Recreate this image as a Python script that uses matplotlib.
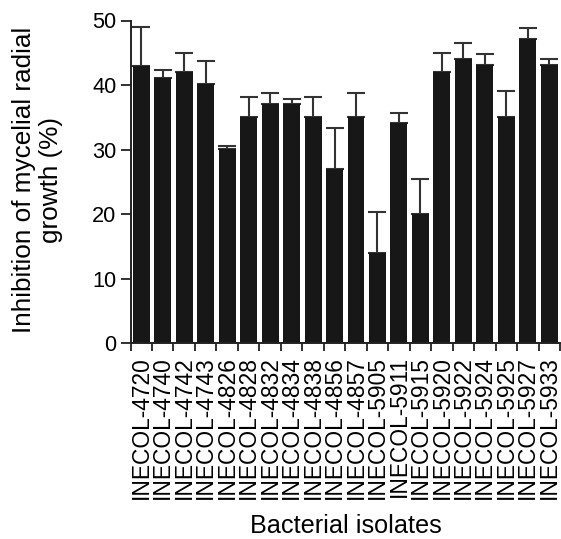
import matplotlib
matplotlib.use("Agg")
import matplotlib.pyplot as plt
import numpy as np

isolates = ["INECOL-4720", "INECOL-4740", "INECOL-4742", "INECOL-4743", "INECOL-4826",
            "INECOL-4828", "INECOL-4832", "INECOL-4834", "INECOL-4838", "INECOL-4856",
            "INECOL-4857", "INECOL-5905", "INECOL-5911", "INECOL-5915", "INECOL-5920",
            "INECOL-5922", "INECOL-5924", "INECOL-5925", "INECOL-5927", "INECOL-5933"]
inhibition = [43.0, 41.1, 42.1, 40.1, 30.1, 35.1, 37.1, 37.1, 35.1, 27.0,
              35.1, 14.0, 34.1, 20.1, 42.1, 44.1, 43.1, 35.1, 47.1, 43.1]
errors = [6.0, 1.2, 2.9, 3.7, 0.4, 3.0, 1.7, 0.8, 3.0, 6.4,
          3.7, 6.4, 1.6, 5.4, 2.9, 2.4, 1.7, 4.0, 1.7, 1.0]
yticks = [0, 10, 20, 30, 40, 50]

plt.rcParams['font.family'] = ['Liberation Sans', 'DejaVu Sans']

fig = plt.figure(figsize=(5.61, 5.39), dpi=100)
W, H = 561, 539
ax_l, ax_r, ax_b, ax_t = 130.5, 560.0, 343.3, 20.5
ax = fig.add_axes([ax_l / W, 1 - ax_b / H, (ax_r - ax_l) / W, (ax_b - ax_t) / H])

x = np.arange(len(isolates))
ax.bar(x, inhibition, width=0.79, color='#171717', edgecolor='none', zorder=2)
ax.errorbar(x, inhibition, yerr=[np.zeros(len(errors)), errors], fmt='none',
            ecolor='#333333', elinewidth=1.5, capsize=6.2, capthick=1.5, zorder=1)

ax.set_xlim(-0.5, len(isolates) - 0.5)
ax.set_ylim(0, 50)
ax.set_yticks(yticks)
ax.set_xticks(x)
ax.set_xticklabels(isolates, rotation=90, fontsize=16.4)
ax.tick_params(axis='x', which='major', length=0, pad=9)
ax.set_xticks(np.arange(len(isolates) + 1) - 0.5, minor=True)
ax.tick_params(axis='x', which='minor', length=6, width=1.3, color='#222222')
ax.tick_params(axis='y', labelsize=15.7, length=7, width=1.3, color='#222222', pad=3)

for s in ['top', 'right']:
    ax.spines[s].set_visible(False)
for s in ['left', 'bottom']:
    ax.spines[s].set_linewidth(1.4)
    ax.spines[s].set_color('#222222')

ax.set_ylabel("Inhibition of mycelial radial\ngrowth (%)", fontsize=18.8)
ax.yaxis.label.set_verticalalignment('center')
ax.yaxis.set_label_coords((37.5 - ax_l) / (ax_r - ax_l), (ax_b - 180) / (ax_b - ax_t))

ax.set_xlabel("Bacterial isolates", fontsize=18.2)
ax.xaxis.label.set_verticalalignment('baseline')
ax.xaxis.set_label_coords((345.5 - ax_l) / (ax_r - ax_l), (ax_b - 533) / (ax_b - ax_t))

fig.savefig("out.png", dpi=100)
